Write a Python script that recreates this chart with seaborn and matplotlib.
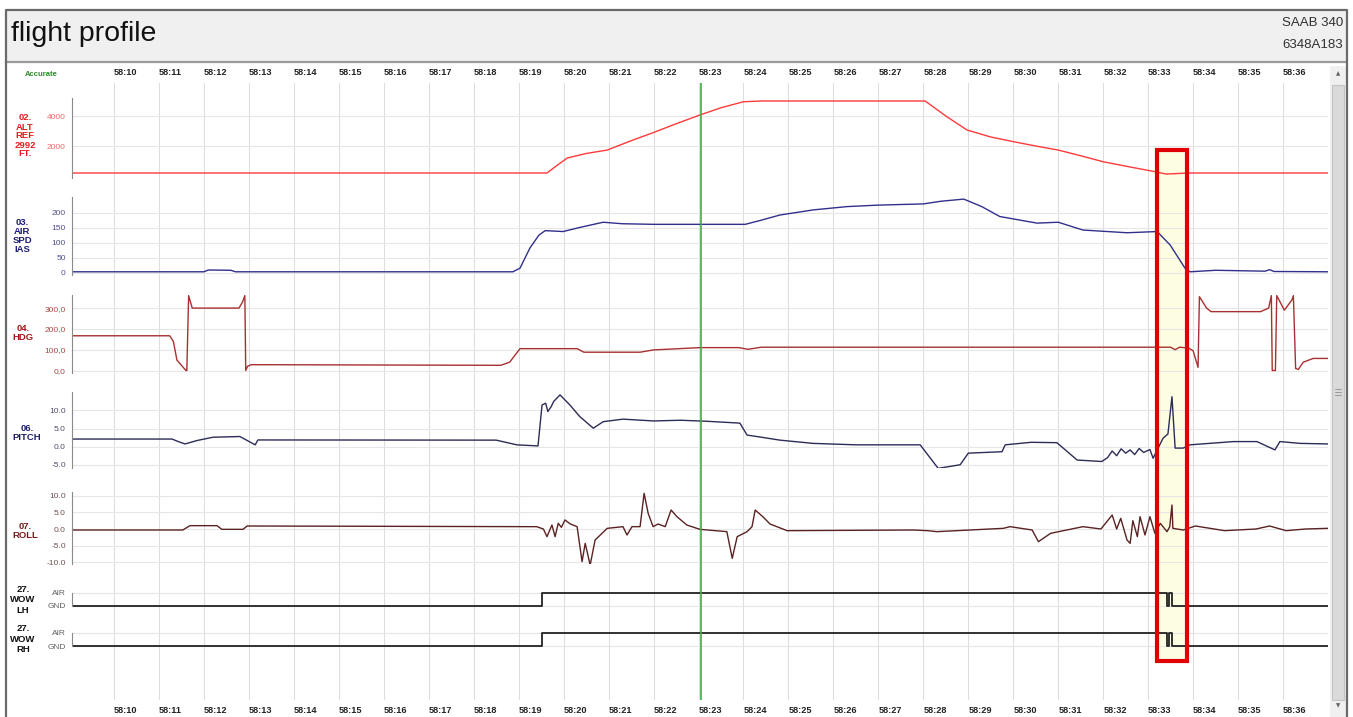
import matplotlib
matplotlib.use("Agg")
import matplotlib.pyplot as plt
import seaborn as sns
from matplotlib.patches import Rectangle
from matplotlib.lines import Line2D

# ---------------- data (seconds after 58:00) ----------------
TIME_TICKS = list(range(10, 37))
TIME_LABELS = [f"58:{s:02d}" for s in TIME_TICKS]
CURSOR_T = 23.06
HIGHLIGHT = (33.2, 33.86)

ALT_T = [9.07, 19.63, 19.85, 20.08, 20.5, 20.97, 21.5, 22.0, 22.5, 23.03, 23.5, 24.0, 24.4,
         28.04, 28.5, 28.97, 29.5, 30.0, 30.5, 31.0, 31.5, 32.0, 32.6, 33.15, 33.4, 33.9, 37.0]
ALT_V = [200, 200, 700, 1200, 1500, 1730, 2350, 2900, 3480, 4067, 4550, 4950, 5000,
         5000, 4000, 3067, 2600, 2290, 2000, 1730, 1350, 950, 600, 290, 130, 200, 200]

IAS_T = [9.07, 12.0, 12.1, 12.6, 12.7, 18.87, 19.03, 19.25, 19.45, 19.59, 19.99, 20.37, 20.88,
         21.3, 22.0, 23.0, 24.04, 24.4, 24.81, 25.55, 26.3, 27.0, 28.0, 28.4, 28.9, 29.3, 29.7,
         30.53, 31.0, 31.55, 32.53, 33.2, 33.49, 33.82, 33.93, 34.5, 35.6, 35.7, 35.8, 37.0]
IAS_V = [3, 3, 9, 8, 3, 3, 15, 82, 125, 140, 137, 151, 168,
         163, 161, 161, 161, 175, 192, 209, 220, 225, 229, 238, 245, 220, 187,
         165, 168, 142, 133, 137, 92, 15, 3, 8, 5, 10, 4, 3]

HDG_T = [9.07, 11.24, 11.32, 11.4, 11.5, 11.6, 11.62, 11.66, 11.74, 12.78, 12.86, 12.91, 12.93,
         12.97, 13.05, 18.6, 18.8, 19.03, 20.3, 20.45, 21.7, 22.0, 23.03, 23.9, 24.1, 24.4,
         33.5, 33.6, 33.7, 33.9, 34.0, 34.11, 34.14, 34.3, 34.4, 35.5, 35.68, 35.74, 35.76,
         35.83, 35.86, 36.03, 36.2, 36.23, 36.28, 36.34, 36.45, 36.67, 37.0]
HDG_V = [167, 167, 140, 50, 25, 0, 0, 360, 300, 300, 330, 360, 0,
         20, 28, 25, 40, 105, 105, 88, 88, 99, 110, 110, 102, 112,
         112, 100, 112, 108, 95, 15, 355, 300, 283, 283, 300, 360, 0,
         0, 360, 290, 340, 360, 10, 5, 40, 58, 58]

PITCH_T = [9.07, 11.29, 11.45, 11.58, 11.85, 12.2, 12.8, 13.14, 13.2, 18.5, 18.96, 19.43,
           19.52, 19.6, 19.65, 19.72, 19.78, 19.92, 20.14, 20.36, 20.66, 20.88, 21.32, 22.0,
           22.6, 23.2, 23.92, 24.08, 24.4, 24.81, 25.55, 26.5, 27.93, 28.33, 28.82, 29.0,
           29.75, 29.82, 30.4, 30.97, 31.42, 31.97, 32.1, 32.2, 32.3, 32.4, 32.5, 32.6, 32.7,
           32.8, 32.9, 33.04, 33.11, 33.33, 33.44, 33.53, 33.6, 33.78, 33.93, 34.9, 35.42,
           35.82, 35.93, 36.38, 37.0]
PITCH_V = [2.1, 2.1, 1.3, 0.75, 1.7, 2.6, 2.8, 0.5, 1.85, 1.8, 0.5, 0.2,
           11.5, 12.0, 9.7, 11.0, 12.5, 14.3, 11.5, 8.3, 5.1, 6.9, 7.6, 7.1,
           7.3, 7.0, 6.5, 3.2, 2.6, 1.8, 0.9, 0.5, 0.5, -6.0, -5.0, -1.8,
           -1.4, 0.5, 1.2, 1.1, -3.7, -4.1, -3.0, -1.2, -2.5, -0.6, -1.8, -0.9, -2.2,
           -0.5, -1.6, -0.8, -3.2, 2.3, 3.5, 13.8, -0.4, -0.4, 0.5, 1.4, 1.4,
           -0.9, 1.4, 0.9, 0.75]

ROLL_T = [9.07, 11.53, 11.69, 12.29, 12.4, 12.87, 12.96, 19.3, 19.4, 19.55, 19.63, 19.74,
          19.81, 19.88, 19.95, 20.03, 20.15, 20.3, 20.41, 20.48, 20.59, 20.7, 20.97, 21.32,
          21.41, 21.52, 21.7, 21.79, 21.88, 21.99, 22.1, 22.26, 22.39, 22.52, 22.74, 23.03,
          23.63, 23.75, 23.86, 24.08, 24.19, 24.26, 24.43, 24.59, 24.97, 27.78, 28.1, 28.3,
          29.78, 29.93, 30.42, 30.56, 30.83, 31.55, 31.95, 32.2, 32.3, 32.39, 32.53, 32.6,
          32.66, 32.76, 32.82, 32.93, 33.04, 33.15, 33.27, 33.42, 33.48, 33.53, 33.55, 33.78,
          34.05, 34.7, 35.4, 35.7, 36.07, 36.5, 37.0]
ROLL_V = [-0.3, -0.3, 1.0, 1.0, -0.1, -0.1, 0.9, 0.7, 0.7, 0.0, -2.3, 1.2,
          -2.3, 1.7, 0.5, 2.7, 1.5, 0.7, -9.8, -4.3, -10.8, -3.3, 0.2, 0.7,
          -1.8, 0.7, 0.7, 10.7, 4.7, 0.7, 1.5, 0.7, 5.7, 3.7, 1.2, -0.1,
          -0.8, -8.8, -2.3, -0.8, 0.7, 5.7, 3.7, 1.5, -0.5, -0.3, -0.5, -0.8,
          0.2, 0.7, -0.3, -3.8, -1.3, 0.7, 0.0, 4.2, 0.0, 3.2, -3.3, -4.3,
          2.5, -2.3, 3.7, -1.8, 3.7, -1.3, 1.7, -0.8, 0.7, 7.2, 0.2, -0.3,
          0.9, -0.5, 0.0, 0.9, -0.5, 0.0, 0.2]

WOW_T = [9.07, 19.52, 33.42, 33.47, 33.53, 37.0]
WOW_LH = [0, 1, 0, 1, 0, 0]
WOW_RH = [0, 1, 0, 1, 0, 0]

# ---------------- figure ----------------
sns.set_style("white")
plt.rcParams['font.family'] = ['Liberation Sans', 'DejaVu Sans']

W, H = 1353, 717
XMIN, XMAX = 9.066, 37.0
fig = plt.figure(figsize=(W / 100, H / 100), dpi=100)
fig.patch.set_facecolor('white')


def rect(x0, y0, x1, y1):
    return [x0 / W, 1 - y1 / H, (x1 - x0) / W, (y1 - y0) / H]


def fx(x):
    return x / W


def fy(y):
    return 1 - y / H


# window frame + header
fig.add_artist(Rectangle((fx(6), fy(62)), fx(1341), 52 / H, transform=fig.transFigure,
                         facecolor='#f0f0f0', edgecolor='none', zorder=0))
fig.add_artist(Line2D([fx(6), fx(1347)], [fy(62), fy(62)], transform=fig.transFigure,
                      color='#9a9a9a', lw=1.6))
fig.add_artist(Line2D([fx(6), fx(6), fx(1347), fx(1347)], [0, fy(10), fy(10), 0],
                      transform=fig.transFigure, color='#6a6a6a', lw=1.6))
fig.text(fx(11), fy(34), "flight profile", fontsize=20.5, ha='left', va='center', color='#111111')
fig.text(fx(1343), fy(23), "SAAB 340", fontsize=9.5, ha='right', va='center', color='#303030')
fig.text(fx(1343), fy(45), "6348A183", fontsize=9.5, ha='right', va='center', color='#303030')
fig.text(fx(41), fy(74), "Accurate", fontsize=5.5, ha='center', va='center',
         color='#2a8a2a', fontweight='bold')

# scrollbar
fig.add_artist(Rectangle((fx(1330), 0), 16 / W, fy(66), transform=fig.transFigure,
                         facecolor='#f0f0f0', edgecolor='none'))
fig.add_artist(Rectangle((fx(1332), fy(700)), 12 / W, 615 / H, transform=fig.transFigure,
                         facecolor='#dadada', edgecolor='#c4c4c4', lw=0.8))
for gy in (389, 392, 395):
    fig.add_artist(Line2D([fx(1335), fx(1341)], [fy(gy), fy(gy)], transform=fig.transFigure,
                          color='#9a9a9a', lw=0.7))
fig.text(fx(1338), fy(74), "▲", fontsize=4, ha='center', va='center', color='#606060',
         family='DejaVu Sans')
fig.text(fx(1338), fy(706), "▼", fontsize=4, ha='center', va='center', color='#606060',
         family='DejaVu Sans')

# background: time grid and labels, highlight fill
bg = fig.add_axes(rect(72, 83, 1328, 700))
bg.set_xlim(XMIN, XMAX)
bg.set_ylim(0, 1)
bg.patch.set_alpha(0)
for s in bg.spines.values():
    s.set_visible(False)
bg.set_yticks([])
bg.set_xticks(TIME_TICKS)
bg.set_xticklabels(TIME_LABELS)
bg.tick_params(axis='x', length=0, labelsize=6.6, labeltop=True, labelbottom=True, pad=4,
               labelcolor='#222222')
for tk in bg.xaxis.get_major_ticks():
    for lab in (tk.label1, tk.label2):
        lab.set_ha('left')
        lab.set_fontweight('bold')
bg.grid(axis='x', color='#dedede', lw=0.8)
y_lo, y_hi = (700 - 661) / 617, (700 - 150) / 617
bg.add_patch(Rectangle((HIGHLIGHT[0], y_lo), HIGHLIGHT[1] - HIGHLIGHT[0], y_hi - y_lo,
                       facecolor='#fdfde2', edgecolor='none', zorder=0))


def panel(y0, y1, ticks, ticklabels, tick_color, bounds=None):
    ax = fig.add_axes(rect(72, y0, 1328, y1))
    ax.patch.set_alpha(0)
    for s in ('top', 'right', 'bottom'):
        ax.spines[s].set_visible(False)
    ax.spines['left'].set_color('#8a8a8a')
    ax.spines['left'].set_linewidth(0.8)
    if bounds is not None:
        ax.spines['left'].set_bounds(*bounds)
    ax.set_xticks([])
    ax.set_yticks(ticks)
    ax.set_yticklabels(ticklabels)
    ax.tick_params(axis='y', direction='out', length=3, width=0.8, color='#8a8a8a',
                   labelsize=6, labelcolor=tick_color, pad=1.5)
    ax.grid(axis='y', color='#e6e6e6', lw=0.8)
    ax.set_axisbelow(True)
    return ax


def finish(ax, ylim):
    ax.set_xlim(XMIN, XMAX)
    ax.set_ylim(*ylim)
    ax.set_xlabel('')
    ax.set_ylabel('')
    if ax.get_legend() is not None:
        ax.get_legend().remove()


def label(x, y, text, color, ls=1.05):
    fig.text(fx(x), fy(y), text, fontsize=6.8, fontweight='bold', ha='center', va='center',
             color=color, linespacing=ls)


# ALT
ax = panel(98, 178, [2000, 4000], ['2000', '4000'], '#f06a6a')
sns.lineplot(x=ALT_T, y=ALT_V, ax=ax, color='#ff3a3a', linewidth=1.0, sort=False, estimator=None)
finish(ax, (-133, 5200))
label(25, 136, "02.\nALT\nREF\n2992\nFT.", '#e52020', ls=1.0)

# IAS
ax = panel(197, 275, [0, 50, 100, 150, 200], ['0', '50', '100', '150', '200'], '#50508f')
sns.lineplot(x=IAS_T, y=IAS_V, ax=ax, color='#30308c', linewidth=1.0, sort=False, estimator=None)
finish(ax, (-7.7, 252))
label(22, 236, "03.\nAIR\nSPD\nIAS", '#1c1c78', ls=1.0)

# HDG
ax = panel(295, 373, [0, 100, 200, 300], ['0,0', '100,0', '200,0', '300,0'], '#b04545')
sns.lineplot(x=HDG_T, y=HDG_V, ax=ax, color='#a83030', linewidth=1.0, sort=False, estimator=None)
finish(ax, (-12, 363))
label(23, 333, "04.\nHDG", '#a01818')

# PITCH
ax = panel(392, 468, [-5, 0, 5, 10], ['-5.0', '0.0', '5.0', '10.0'], '#50506e')
sns.lineplot(x=PITCH_T, y=PITCH_V, ax=ax, color='#2c2c58', linewidth=1.0, sort=False,
             estimator=None)
finish(ax, (-5.9, 15.1))
label(27, 433, "06.\nPITCH", '#1c1c6a', ls=0.9)

# ROLL
ax = panel(492, 564, [-10, -5, 0, 5, 10], ['-10.0', '-5.0', '0.0', '5.0', '10.0'], '#705050')
sns.lineplot(x=ROLL_T, y=ROLL_V, ax=ax, color='#5a2222', linewidth=1.0, sort=False,
             estimator=None)
finish(ax, (-10.5, 11.1))
label(25, 531, "07.\nROLL", '#7a1c1c')

# WOW LH
ax = panel(588, 610, [0, 1], ['GND', 'AIR'], '#606060', bounds=(0, 1))
sns.lineplot(x=WOW_T, y=WOW_LH, ax=ax, color='#222222', linewidth=1.3, sort=False,
             estimator=None, drawstyle='steps-post')
finish(ax, (-0.34, 1.39))
label(23, 600, "27.\nWOW\nLH", '#111111', ls=1.15)

# WOW RH
ax = panel(627, 650, [0, 1], ['GND', 'AIR'], '#606060', bounds=(0, 1))
sns.lineplot(x=WOW_T, y=WOW_RH, ax=ax, color='#222222', linewidth=1.3, sort=False,
             estimator=None, drawstyle='steps-post')
finish(ax, (-0.3, 1.43))
label(23, 639, "27.\nWOW\nRH", '#111111', ls=1.15)

# overlay: cursor and highlight frame
ov = fig.add_axes(rect(72, 83, 1328, 700))
ov.set_xlim(XMIN, XMAX)
ov.set_ylim(0, 1)
ov.axis('off')
ov.axvline(CURSOR_T, color='#3cb043', lw=1.2)
ov.add_patch(Rectangle((HIGHLIGHT[0], y_lo), HIGHLIGHT[1] - HIGHLIGHT[0], y_hi - y_lo,
                       facecolor='none', edgecolor='#e00000', lw=3.0))

fig.savefig("out.png", dpi=100)
